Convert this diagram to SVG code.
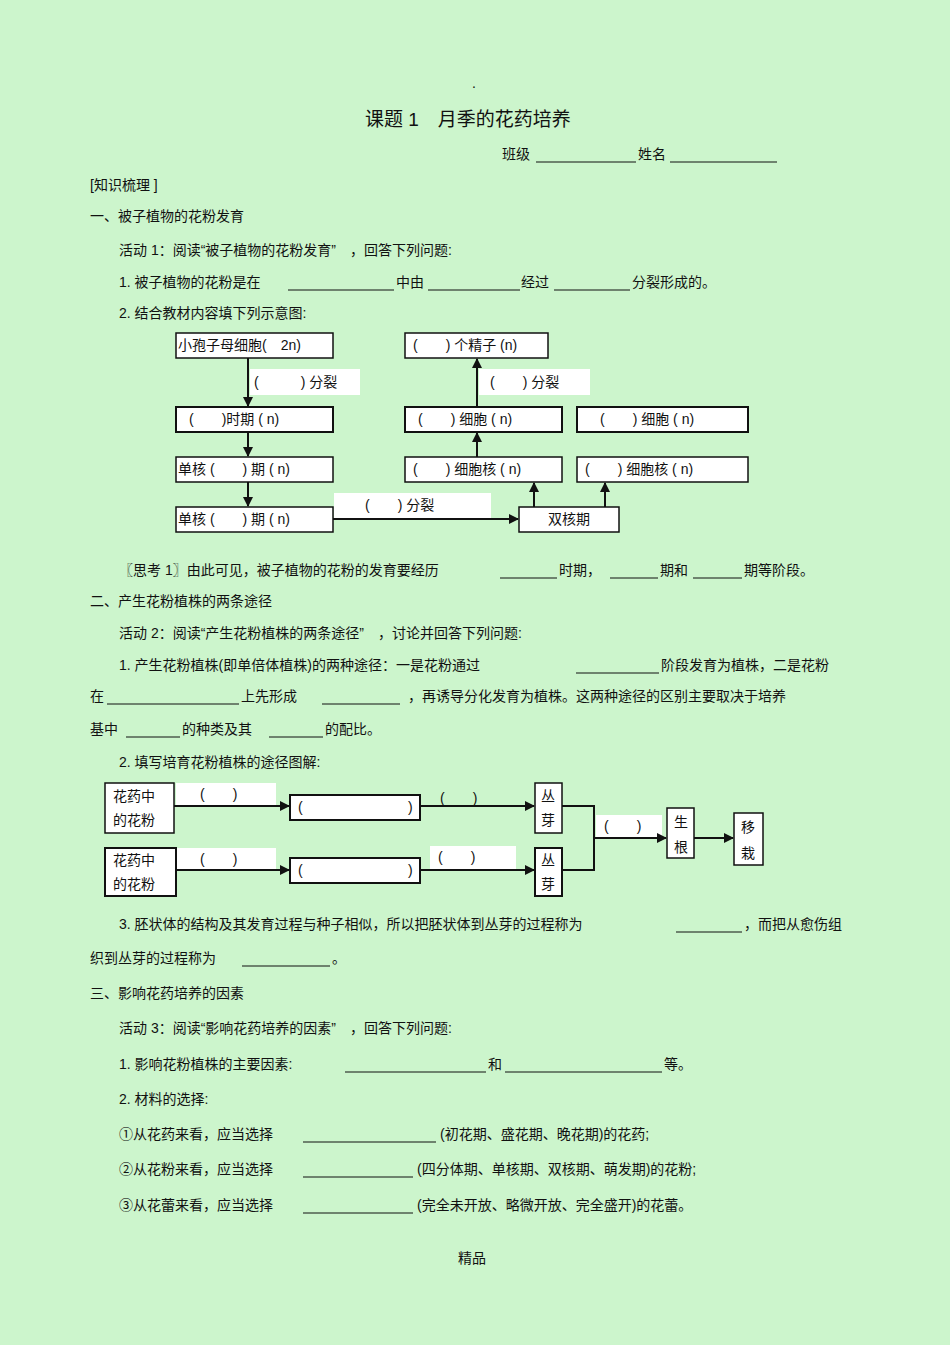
<svg xmlns="http://www.w3.org/2000/svg" width="950" height="1345" viewBox="0 0 950 1345">
<defs>
<style>
text{font-family:"Liberation Sans","Noto Sans CJK SC",sans-serif;font-size:14px;fill:#111}
.t{font-size:19px}
.b{fill:#fff;stroke:#111;stroke-width:1.5}
.bb{fill:#fff;stroke:#111;stroke-width:2}
.l{fill:#fff;stroke:none}
.c{fill:none;stroke:#111;stroke-width:2}
.u{stroke:#111;stroke-width:1}
</style>
<marker id="a" viewBox="0 0 10 10" refX="9" refY="5" markerWidth="5" markerHeight="5" orient="auto"><path d="M0,0L10,5L0,10z" fill="#111"/></marker>
</defs>
<rect width="950" height="1345" fill="#ccf5cc"/>
<text x="472" y="88" font-size="10">.</text>
<text class="t" x="365" y="126">课题 1　月季的花药培养</text>
<text x="502" y="159">班级</text><line class="u" x1="536" y1="162" x2="636" y2="162"/>
<text x="638" y="159">姓名</text><line class="u" x1="670" y1="162" x2="777" y2="162"/>
<text x="90" y="190" font-size="16">[知识梳理 ]</text>
<text x="90" y="221">一、被子植物的花粉发育</text>
<text x="119" y="255">活动 1：阅读“被子植物的花粉发育”　，回答下列问题:</text>
<text x="119" y="287">1. 被子植物的花粉是在</text><line class="u" x1="288" y1="290" x2="394" y2="290"/>
<text x="396" y="287">中由</text><line class="u" x1="428" y1="290" x2="520" y2="290"/>
<text x="521" y="287">经过</text><line class="u" x1="554" y1="290" x2="630" y2="290"/>
<text x="632" y="287">分裂形成的。</text>
<text x="119" y="318">2. 结合教材内容填下列示意图:</text>

<g id="connectors1">
<line class="c" x1="248" y1="358" x2="248" y2="406" marker-end="url(#a)"/>
<line class="c" x1="248" y1="432" x2="248" y2="456" marker-end="url(#a)"/>
<line class="c" x1="248" y1="482" x2="248" y2="506" marker-end="url(#a)"/>
<line class="c" x1="333" y1="519" x2="518" y2="519" marker-end="url(#a)"/>
<line class="c" x1="534" y1="507" x2="534" y2="483" marker-end="url(#a)"/>
<line class="c" x1="605" y1="507" x2="605" y2="483" marker-end="url(#a)"/>
<line class="c" x1="477" y1="457" x2="477" y2="433" marker-end="url(#a)"/>
<line class="c" x1="477" y1="407" x2="477" y2="359" marker-end="url(#a)"/>
</g>
<g id="lab1"><rect class="l" x="250" y="369" width="110" height="26"/><text x="254" y="387">(　　　)  分裂</text></g>
<g id="lab2"><rect class="l" x="479" y="369" width="111" height="26"/><text x="490" y="387">(　　)  分裂</text></g>
<g id="lab3"><rect class="l" x="334" y="493" width="157" height="25"/><text x="365" y="510">(　　)  分裂</text></g>
<g id="nA"><rect class="b" x="176" y="333" width="157" height="25"/><text x="178" y="350">小孢子母细胞(　2n)</text></g>
<g id="nB"><rect class="bb" x="176" y="407" width="157" height="25"/><text x="189" y="424">(　　)时期 ( n)</text></g>
<g id="nC"><rect class="b" x="176" y="457" width="157" height="25"/><text x="178" y="474">单核 (　　) 期 ( n)</text></g>
<g id="nD"><rect class="b" x="176" y="507" width="157" height="25"/><text x="178" y="524">单核 (　　) 期 ( n)</text></g>
<g id="nE"><rect class="b" x="519" y="507" width="100" height="25"/><text x="569" y="524" text-anchor="middle">双核期</text></g>
<g id="nF"><rect class="b" x="405" y="333" width="143" height="25"/><text x="413" y="350">(　　) 个精子 (n)</text></g>
<g id="nG"><rect class="bb" x="405" y="407" width="157" height="25"/><text x="418" y="424">(　　) 细胞 ( n)</text></g>
<g id="nH"><rect class="bb" x="577" y="407" width="171" height="25"/><text x="600" y="424">(　　) 细胞 ( n)</text></g>
<g id="nI"><rect class="b" x="405" y="457" width="157" height="25"/><text x="413" y="474">(　　) 细胞核 ( n)</text></g>
<g id="nJ"><rect class="b" x="577" y="457" width="171" height="25"/><text x="585" y="474">(　　) 细胞核 ( n)</text></g>

<text x="119" y="575">〖思考 1〗由此可见，被子植物的花粉的发育要经历</text>
<line class="u" x1="500" y1="578" x2="557" y2="578"/><text x="559" y="575">时期，</text>
<line class="u" x1="610" y1="578" x2="658" y2="578"/><text x="660" y="575">期和</text>
<line class="u" x1="693" y1="578" x2="742" y2="578"/><text x="744" y="575">期等阶段。</text>
<text x="90" y="606">二、产生花粉植株的两条途径</text>
<text x="119" y="638">活动 2：阅读“产生花粉植株的两条途径”　，讨论并回答下列问题:</text>
<text x="119" y="670">1. 产生花粉植株(即单倍体植株)的两种途径：一是花粉通过</text>
<line class="u" x1="576" y1="673" x2="659" y2="673"/><text x="661" y="670">阶段发育为植株，二是花粉</text>
<text x="90" y="701">在</text><line class="u" x1="107" y1="704" x2="239" y2="704"/>
<text x="241" y="701">上先形成</text><line class="u" x1="322" y1="704" x2="400" y2="704"/>
<text x="408" y="701">，再诱导分化发育为植株。这两种途径的区别主要取决于培养</text>
<text x="90" y="734">基中</text><line class="u" x1="126" y1="737" x2="180" y2="737"/>
<text x="182" y="734">的种类及其</text><line class="u" x1="269" y1="737" x2="323" y2="737"/>
<text x="325" y="734">的配比。</text>
<text x="119" y="767">2. 填写培育花粉植株的途径图解:</text>

<g id="connectors2">
<rect class="l" x="176" y="783" width="100" height="23"/>
<rect class="l" x="176" y="848" width="100" height="22"/>
<rect class="l" x="430" y="846" width="86" height="24"/>
<rect class="l" x="596" y="815" width="66" height="23"/>
<line class="c" x1="174" y1="806" x2="289" y2="806" marker-end="url(#a)"/>
<line class="c" x1="420" y1="806" x2="534" y2="806" marker-end="url(#a)"/>
<line class="c" x1="176" y1="870" x2="289" y2="870" marker-end="url(#a)"/>
<line class="c" x1="420" y1="870" x2="534" y2="870" marker-end="url(#a)"/>
<polyline class="c" points="562,806 594,806 594,870 562,870"/>
<line class="c" x1="594" y1="838" x2="666" y2="838" marker-end="url(#a)"/>
<line class="c" x1="694" y1="838" x2="733" y2="838" marker-end="url(#a)"/>
<text x="200" y="799">(　　)</text><text x="200" y="864">(　　)</text>
<text x="440" y="803">(　　)</text><text x="438" y="862">(　　)</text>
<text x="604" y="831">(　　)</text>
</g>
<g id="p1"><rect class="b" x="105" y="783" width="69" height="50"/><text x="113" y="801">花药中</text><text x="113" y="825">的花粉</text></g>
<g id="p2"><rect class="bb" x="105" y="848" width="71" height="48"/><text x="113" y="865">花药中</text><text x="113" y="889">的花粉</text></g>
<g id="q1"><rect class="bb" x="290" y="795" width="130" height="25"/><text x="298" y="812">(</text><text x="408" y="812">)</text></g>
<g id="q2"><rect class="bb" x="290" y="858" width="130" height="25"/><text x="298" y="875">(</text><text x="408" y="875">)</text></g>
<g id="r1"><rect class="b" x="535" y="783" width="27" height="50"/><text x="541" y="801">丛</text><text x="541" y="825">芽</text></g>
<g id="r2"><rect class="bb" x="535" y="848" width="27" height="48"/><text x="541" y="865">丛</text><text x="541" y="889">芽</text></g>
<g id="s"><rect class="b" x="667" y="808" width="27" height="50"/><text x="674" y="827">生</text><text x="674" y="852">根</text></g>
<g id="tt"><rect class="b" x="734" y="813" width="29" height="52"/><text x="741" y="832">移</text><text x="741" y="858">栽</text></g>

<text x="119" y="929">3. 胚状体的结构及其发育过程与种子相似，所以把胚状体到丛芽的过程称为</text>
<line class="u" x1="676" y1="932" x2="742" y2="932"/><text x="744" y="929">，而把从愈伤组</text>
<text x="90" y="963">织到丛芽的过程称为</text><line class="u" x1="242" y1="966" x2="330" y2="966"/><text x="332" y="963">。</text>
<text x="90" y="998">三、影响花药培养的因素</text>
<text x="119" y="1033">活动 3：阅读“影响花药培养的因素”　，回答下列问题:</text>
<text x="119" y="1069">1. 影响花粉植株的主要因素:</text>
<line class="u" x1="345" y1="1072" x2="486" y2="1072"/><text x="488" y="1069">和</text>
<line class="u" x1="505" y1="1072" x2="662" y2="1072"/><text x="664" y="1069">等。</text>
<text x="119" y="1104">2. 材料的选择:</text>
<text x="119" y="1139">①从花药来看，应当选择</text><line class="u" x1="303" y1="1142" x2="436" y2="1142"/><text x="440" y="1139">(初花期、盛花期、晚花期)的花药;</text>
<text x="119" y="1174">②从花粉来看，应当选择</text><line class="u" x1="303" y1="1177" x2="413" y2="1177"/><text x="417" y="1174">(四分体期、单核期、双核期、萌发期)的花粉;</text>
<text x="119" y="1210">③从花蕾来看，应当选择</text><line class="u" x1="303" y1="1213" x2="413" y2="1213"/><text x="417" y="1210">(完全未开放、略微开放、完全盛开)的花蕾。</text>
<text x="458" y="1263">精品</text>
</svg>
